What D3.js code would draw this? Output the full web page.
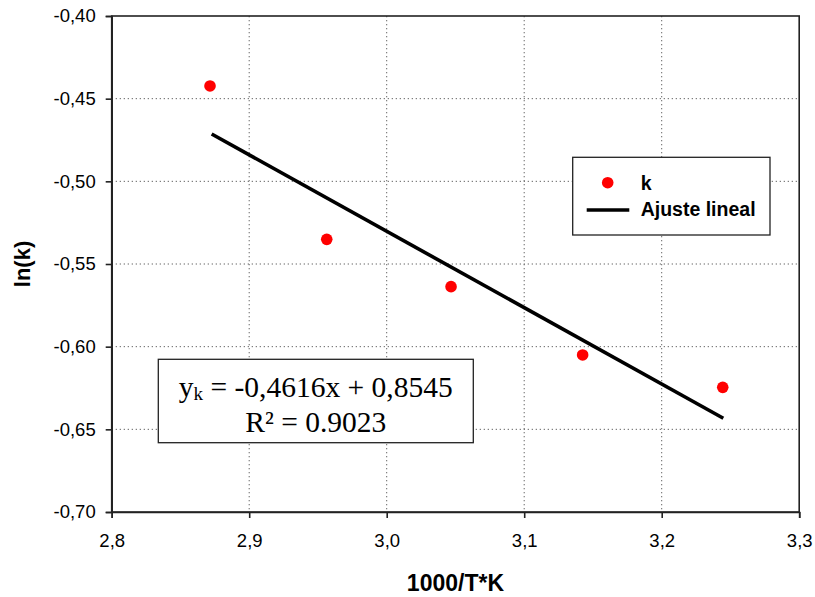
<!DOCTYPE html>
<html>
<head>
<meta charset="utf-8">
<script src="https://cdn.jsdelivr.net/npm/d3@7"></script>
<style>
  html, body { margin: 0; padding: 0; background: #fff; }
  svg { display: block; }
</style>
</head>
<body>
<svg id="chart" width="815" height="597"></svg>
<script>
// Data
const xValues = [2.8715, 2.9564, 3.0468, 3.1425, 3.2444];
const lnK = [-0.4423, -0.5351, -0.5637, -0.6050, -0.6246];
const fitX = [2.8727, 3.2448];
const fitY = [-0.4714, -0.6433];
const xTicks = [2.8, 2.9, 3.0, 3.1, 3.2, 3.3];
const yTicks = [-0.40, -0.45, -0.50, -0.55, -0.60, -0.65, -0.70];
const seriesName = "k";
const fitName = "Ajuste lineal";
const eqLine1 = "-0,4616x + 0,8545";
const eqLine2 = "R² = 0.9023";

(function () {
const svg = d3.select("#chart");
const pL = 111.7, pR = 799.2, pT = 16, pB = 512;

const x = d3.scaleLinear().domain([2.8, 3.3]).range([pL, pR]);
const y = d3.scaleLinear().domain([-0.70, -0.40]).range([pB, pT]);
const fmtX = v => d3.format(".1f")(v).replace(".", ",").replace("\u2212", "-");
const fmtY = v => d3.format(".2f")(v).replace(".", ",").replace("\u2212", "-");

// gridlines
const grid = svg.append("g");
grid.selectAll("line.gy").data(yTicks.filter(v => v > -0.70 && v < -0.40)).enter()
  .append("line")
  .attr("x1", pL).attr("x2", pR)
  .attr("y1", d => y(d)).attr("y2", d => y(d))
  .attr("stroke", "#666").attr("stroke-width", 1).attr("stroke-dasharray", "1.3,2.7");
grid.selectAll("line.gx").data(xTicks.filter(v => v > 2.8 && v < 3.3)).enter()
  .append("line")
  .attr("x1", d => x(d)).attr("x2", d => x(d))
  .attr("y1", pT).attr("y2", pB)
  .attr("stroke", "#666").attr("stroke-width", 1).attr("stroke-dasharray", "1.3,2.7");

// frame
svg.append("rect")
  .attr("x", pL).attr("y", pT)
  .attr("width", pR - pL).attr("height", pB - pT)
  .attr("fill", "none").attr("stroke", "#222").attr("stroke-width", 1.6);

// axes
const xAxis = d3.axisBottom(x).tickValues(xTicks).tickFormat(fmtX).tickSize(6).tickPadding(16);
const yAxis = d3.axisLeft(y).tickValues(yTicks).tickFormat(fmtY).tickSize(6).tickPadding(10);

const gx = svg.append("g").attr("transform", `translate(0,${pB})`).call(xAxis);
const gy = svg.append("g").attr("transform", `translate(${pL},0)`).call(yAxis);
[gx, gy].forEach(g => {
  g.select(".domain").attr("stroke", "#222").attr("stroke-width", 1.6);
  g.selectAll(".tick line").attr("stroke", "#222").attr("stroke-width", 1.6);
  g.selectAll(".tick text")
    .attr("fill", "#000")
    .style("font-family", "Arial, 'Liberation Sans', sans-serif")
    .style("font-size", "18.5px");
});

// fit line
svg.append("path")
  .datum(fitX.map((v, i) => [v, fitY[i]]))
  .attr("d", d3.line().x(d => x(d[0])).y(d => y(d[1])))
  .attr("fill", "none").attr("stroke", "#000").attr("stroke-width", 3.6);

// points
svg.append("g").selectAll("circle").data(xValues.map((v, i) => [v, lnK[i]])).enter()
  .append("circle")
  .attr("cx", d => x(d[0])).attr("cy", d => y(d[1]))
  .attr("r", 5.8).attr("fill", "#ff0000");

// axis titles
svg.append("text")
  .attr("x", (pL + pR) / 2).attr("y", 591)
  .attr("text-anchor", "middle")
  .style("font-family", "Arial, 'Liberation Sans', sans-serif")
  .style("font-weight", "bold").style("font-size", "23px")
  .text("1000/T*K");
svg.append("text")
  .attr("transform", `translate(30,${(pT + pB) / 2}) rotate(-90)`)
  .attr("text-anchor", "middle")
  .style("font-family", "Arial, 'Liberation Sans', sans-serif")
  .style("font-weight", "bold").style("font-size", "22px")
  .text("ln(k)");

// legend
const lg = svg.append("g");
lg.append("rect").attr("x", 572.7).attr("y", 157.3).attr("width", 197.3).attr("height", 77.7)
  .attr("fill", "#fff").attr("stroke", "#222").attr("stroke-width", 1.3);
lg.append("circle").attr("cx", 607.7).attr("cy", 182.7).attr("r", 5.8).attr("fill", "#ff0000");
lg.append("line").attr("x1", 586.7).attr("x2", 629.3).attr("y1", 210).attr("y2", 210)
  .attr("stroke", "#000").attr("stroke-width", 3.6);
lg.append("text").attr("x", 640.7).attr("y", 190)
  .style("font-family", "Arial, 'Liberation Sans', sans-serif")
  .style("font-weight", "bold").style("font-size", "19.5px").text(seriesName);
lg.append("text").attr("x", 640.7).attr("y", 216)
  .style("font-family", "Arial, 'Liberation Sans', sans-serif")
  .style("font-weight", "bold").style("font-size", "19.5px").text(fitName);

// equation box
const eb = svg.append("g");
eb.append("rect").attr("x", 158.3).attr("y", 359.3).attr("width", 315).attr("height", 83.4)
  .attr("fill", "#fff").attr("stroke", "#222").attr("stroke-width", 1.3);
const cx = 158.3 + 315 / 2;
const t1 = eb.append("text").attr("x", cx).attr("y", 397).attr("text-anchor", "middle")
  .style("font-family", "'Times New Roman', 'Liberation Serif', serif")
  .style("font-size", "29.5px");
t1.append("tspan").text("y");
t1.append("tspan").attr("dy", 3).style("font-size", "19px").text("k");
t1.append("tspan").attr("dy", -3).text(" = " + eqLine1);
eb.append("text").attr("x", cx).attr("y", 432).attr("text-anchor", "middle")
  .style("font-family", "'Times New Roman', 'Liberation Serif', serif")
  .style("font-size", "29.5px").text(eqLine2);
})();
</script>
</body>
</html>
